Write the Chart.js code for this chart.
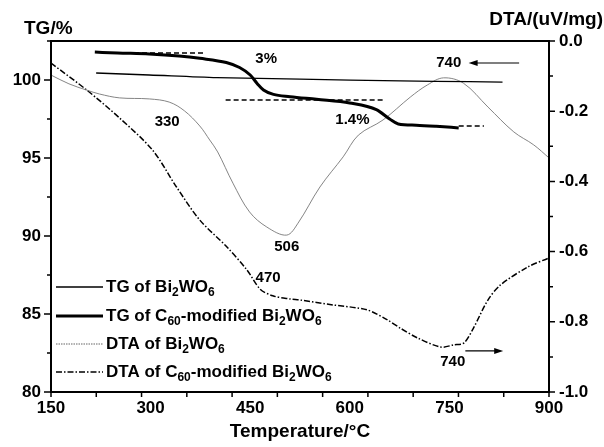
<!DOCTYPE html>
<html>
<head>
<meta charset="utf-8">
<script src="https://cdn.jsdelivr.net/npm/chart.js@4.4.0/dist/chart.umd.min.js"></script>
<style>
  body { margin: 0; background: #fff; }
  #wrap { width: 604px; height: 447px; }
</style>
</head>
<body>
<div id="wrap"><canvas id="chart" width="604" height="447"></canvas></div>
<script>
// TG of Bi2WO6 (left axis, %)
const tgBiTemp = [218, 298, 400, 525, 676, 780, 830];
const tgBiVal  = [100.45, 100.32, 100.15, 100.06, 99.94, 99.9, 99.87];

// TG of C60-modified Bi2WO6
const tgC60Temp = [216, 250, 298, 343, 374, 414, 434, 450, 461, 470, 485, 510, 550, 600, 640, 660, 673, 700, 730, 764];
const tgC60Val  = [101.79, 101.73, 101.67, 101.54, 101.39, 101.12, 100.8, 100.32, 99.75, 99.36, 99.08, 98.93, 98.76, 98.53, 98.1, 97.5, 97.18, 97.1, 97.03, 96.93];

// DTA of Bi2WO6 (right axis, uV/mg)
const dtaBiTemp = [150, 177, 204, 223, 253, 298, 328, 351, 374, 389, 401, 424, 449, 475, 505, 522, 555, 590, 613, 650, 691, 717, 741, 771, 808, 847, 877, 900];
const dtaBiVal  = [-0.097, -0.122, -0.140, -0.151, -0.162, -0.165, -0.174, -0.199, -0.242, -0.282, -0.316, -0.405, -0.487, -0.530, -0.553, -0.519, -0.416, -0.330, -0.268, -0.225, -0.160, -0.125, -0.105, -0.120, -0.188, -0.259, -0.296, -0.333];

// DTA of C60-modified Bi2WO6
const dtaC60Temp = [150, 204, 253, 303, 339, 374, 415, 445, 465, 484, 510, 525, 575, 626, 657, 676, 702, 737, 756, 772, 787, 808, 827, 868, 900];
const dtaC60Val  = [-0.063, -0.140, -0.219, -0.311, -0.416, -0.510, -0.587, -0.652, -0.707, -0.726, -0.735, -0.738, -0.752, -0.766, -0.795, -0.818, -0.846, -0.872, -0.866, -0.860, -0.815, -0.738, -0.695, -0.644, -0.618];

// dashed guide lines on the TG curve
const guideTemps = [[275, 381], [413, 652], [764, 802]];
const guideVals  = [101.73, 98.72, 97.05];

// tick values
const xTicks = [150, 300, 450, 600, 750, 900];
const tgTicks = [80, 85, 90, 95, 100];
const tgMinor = [82.5, 87.5, 92.5, 97.5, 102.5];
const dtaTicks = [0, -0.2, -0.4, -0.6, -0.8, -1.0];
const dtaMinor = [-0.1, -0.3, -0.5, -0.7, -0.9];

// text labels (temperature, TG value)
const noteText = ['3%', '1.4%', '330', '506', '470', '740', '740'];
const noteTemp = [474, 604, 325, 505, 477, 749, 755];
const noteVal  = [101.35, 97.44, 97.31, 89.29, 87.31, 101.09, 81.92];

// arrows (from temperature, to temperature, TG value)
const arrowFrom = [855, 774];
const arrowTo   = [779, 831];
const arrowVal  = [101.09, 82.63];

function pts(xs, ys) {
    return xs.map((t, i) => ({ x: t, y: ys[i] }));
}

const FONT = "'Liberation Sans', Arial, sans-serif";
Chart.defaults.font.family = FONT;
Chart.defaults.color = '#000';

const datasets = [
    { label: 'TG of Bi2WO6', data: pts(tgBiTemp, tgBiVal), yAxisID: 'yTG', borderColor: '#000', borderWidth: 1.3, tension: 0.3 },
    { label: 'TG of C60-modified Bi2WO6', data: pts(tgC60Temp, tgC60Val), yAxisID: 'yTG', borderColor: '#000', borderWidth: 3, cubicInterpolationMode: 'monotone' },
    { label: 'DTA of Bi2WO6', data: pts(dtaBiTemp, dtaBiVal), yAxisID: 'yDTA', borderColor: '#777', borderWidth: 0.9, tension: 0.35 },
    { label: 'DTA of C60-modified Bi2WO6', data: pts(dtaC60Temp, dtaC60Val), yAxisID: 'yDTA', borderColor: '#000', borderWidth: 1.5, borderDash: [6, 2, 1.5, 2], tension: 0.3 }
];
guideTemps.forEach((g, i) => {
    datasets.push({
        label: 'guide', data: pts(g, [guideVals[i], guideVals[i]]), yAxisID: 'yTG',
        borderColor: '#000', borderWidth: 1.5, borderDash: [5, 3]
    });
});
datasets.forEach(d => { d.pointRadius = 0; d.fill = false; });

// legend entries: text pieces, [text, isSubscript]
const legendRows = [
    [['TG of Bi', 0], ['2', 1], ['WO', 0], ['6', 1]],
    [['TG of C', 0], ['60', 1], ['-modified Bi', 0], ['2', 1], ['WO', 0], ['6', 1]],
    [['DTA of Bi', 0], ['2', 1], ['WO', 0], ['6', 1]],
    [['DTA of C', 0], ['60', 1], ['-modified Bi', 0], ['2', 1], ['WO', 0], ['6', 1]]
];

function richText(ctx, parts, x, y) {
    parts.forEach(p => {
        ctx.font = p[1] ? 'bold 12px ' + FONT : 'bold 17px ' + FONT;
        ctx.fillText(p[0], x, p[1] ? y + 6 : y);
        x += ctx.measureText(p[0]).width;
    });
}

const decor = {
    id: 'decor',
    afterDraw(chart) {
        const { ctx, chartArea: a, scales } = chart;
        const x = scales.x, yL = scales.yTG, yR = scales.yDTA;
        ctx.save();
        ctx.strokeStyle = '#000';
        ctx.fillStyle = '#000';
        ctx.lineWidth = 2;
        ctx.strokeRect(a.left, a.top, a.right - a.left, a.bottom - a.top);

        // tick marks
        ctx.lineWidth = 1.5;
        ctx.beginPath();
        tgTicks.forEach(v => { const p = yL.getPixelForValue(v); ctx.moveTo(a.left, p); ctx.lineTo(a.left - 7, p); });
        tgMinor.forEach(v => { const p = yL.getPixelForValue(v); ctx.moveTo(a.left, p); ctx.lineTo(a.left - 4, p); });
        dtaTicks.forEach(v => { const p = yR.getPixelForValue(v); ctx.moveTo(a.right, p); ctx.lineTo(a.right + 6, p); });
        dtaMinor.forEach(v => { const p = yR.getPixelForValue(v); ctx.moveTo(a.right, p); ctx.lineTo(a.right + 4, p); });
        for (let k = 0; k <= 11; k++) {
            const p = x.getPixelForValue(150 + k * 750 / 11);
            ctx.moveTo(p, a.bottom); ctx.lineTo(p, a.bottom + 5);
        }
        ctx.stroke();

        // axis titles
        ctx.font = 'bold 19px ' + FONT;
        ctx.textBaseline = 'middle';
        ctx.textAlign = 'left';
        ctx.fillText('TG/%', 24, 29);
        ctx.textAlign = 'right';
        ctx.fillText('DTA/(uV/mg)', 603, 20);
        ctx.textAlign = 'center';
        ctx.fillText('Temperature/°C', (a.left + a.right) / 2, 432);

        // notes
        ctx.font = 'bold 15px ' + FONT;
        noteText.forEach((t, i) => {
            ctx.fillText(t, x.getPixelForValue(noteTemp[i]), yL.getPixelForValue(noteVal[i]));
        });

        // arrows
        ctx.lineWidth = 1.2;
        arrowFrom.forEach((f, i) => {
            const x1 = x.getPixelForValue(f), x2 = x.getPixelForValue(arrowTo[i]);
            const py = yL.getPixelForValue(arrowVal[i]);
            const dir = x2 > x1 ? 1 : -1;
            ctx.beginPath();
            ctx.moveTo(x1, py); ctx.lineTo(x2 - dir * 6, py);
            ctx.stroke();
            ctx.beginPath();
            ctx.moveTo(x2, py);
            ctx.lineTo(x2 - dir * 9, py - 3);
            ctx.lineTo(x2 - dir * 9, py + 3);
            ctx.closePath();
            ctx.fill();
        });

        // legend
        const rowY = [287, 316, 344, 372];
        ctx.textAlign = 'left';
        legendRows.forEach((row, i) => {
            const ds = chart.data.datasets[i];
            ctx.save();
            ctx.strokeStyle = i == 2 ? '#999' : ds.borderColor;
            ctx.lineWidth = i == 2 ? 1.6 : ds.borderWidth;
            ctx.setLineDash(i == 2 ? [1.5, 1] : (ds.borderDash || []));
            ctx.beginPath();
            ctx.moveTo(a.left + 5, rowY[i]);
            ctx.lineTo(a.left + 52, rowY[i]);
            ctx.stroke();
            ctx.restore();
            richText(ctx, row, a.left + 55, rowY[i]);
        });
        ctx.restore();
    }
};

new Chart(document.getElementById('chart'), {
    type: 'line',
    data: { datasets: datasets },
    options: {
        responsive: false,
        animation: false,
        layout: { padding: { top: 41, left: 0, right: 0, bottom: 0 } },
        plugins: { legend: { display: false }, tooltip: { enabled: false } },
        scales: {
            x: {
                type: 'linear', min: 150, max: 900,
                afterBuildTicks: s => { s.ticks = xTicks.map(v => ({ value: v })); },
                afterFit: s => { s.height = 55; },
                grid: { display: false, drawTicks: false },
                border: { display: false },
                ticks: { padding: 6, maxRotation: 0, autoSkip: false, font: { size: 17, weight: 'bold' } }
            },
            yTG: {
                type: 'linear', position: 'left', min: 80, max: 102.5,
                afterBuildTicks: s => { s.ticks = tgTicks.map(v => ({ value: v })); },
                afterFit: s => { s.width = 51; },
                grid: { display: false, drawTicks: false },
                border: { display: false },
                ticks: { padding: 10, font: { size: 17, weight: 'bold' } }
            },
            yDTA: {
                type: 'linear', position: 'right', min: -1, max: 0,
                afterBuildTicks: s => { s.ticks = dtaTicks.map(v => ({ value: v })); },
                afterFit: s => { s.width = 55; },
                grid: { display: false, drawTicks: false },
                border: { display: false },
                ticks: { padding: 10, font: { size: 17, weight: 'bold' }, callback: v => v.toFixed(1) }
            }
        }
    },
    plugins: [decor]
});
</script>
</body>
</html>
